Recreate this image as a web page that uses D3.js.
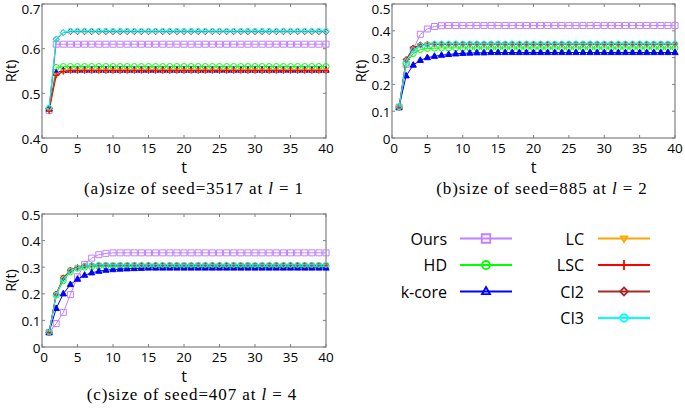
<!DOCTYPE html>
<html>
<head>
<meta charset="utf-8">
<script src="https://cdn.jsdelivr.net/npm/d3@7"></script>
<style>
  html, body { margin: 0; padding: 0; background: #fff; }
  svg { display: block; }
</style>
</head>
<body>
<div id="chart"></div>
<script>
/* ============================
   DATA
============================ */
const T = [1,2,3,4,5,6,7,8,9,10,11,12,13,14,15,16,17,18,19,20,
           21,22,23,24,25,26,27,28,29,30,31,32,33,34,35,36,37,38,39,40];

const X_TICKS = [0,5,10,15,20,25,30,35,40];
const Y_TICKS_A = [0.4,0.5,0.6,0.7];
const Y_TICKS_BC = [0,0.1,0.2,0.3,0.4,0.5];

const SERIES_NAMES = ["Ours","HD","k-core","LC","LSC","CI2","CI3"];

// (a) seed=3517, l=1
const A_OURS = [0.462,0.610,0.610,0.610,0.610,0.610,0.610,0.610,0.610,0.610,
                0.610,0.610,0.610,0.610,0.610,0.610,0.610,0.610,0.610,0.610,
                0.610,0.610,0.610,0.610,0.610,0.610,0.610,0.610,0.610,0.610,
                0.610,0.610,0.610,0.610,0.610,0.610,0.610,0.610,0.610,0.610];
const A_HD   = [0.465,0.558,0.560,0.560,0.560,0.560,0.560,0.560,0.560,0.560,
                0.560,0.560,0.560,0.560,0.560,0.560,0.560,0.560,0.560,0.560,
                0.560,0.560,0.560,0.560,0.560,0.560,0.560,0.560,0.560,0.560,
                0.560,0.560,0.560,0.560,0.560,0.560,0.560,0.560,0.560,0.560];
const A_KCORE= [0.465,0.546,0.551,0.552,0.552,0.552,0.552,0.552,0.552,0.552,
                0.552,0.552,0.552,0.552,0.552,0.552,0.552,0.552,0.552,0.552,
                0.552,0.552,0.552,0.552,0.552,0.552,0.552,0.552,0.552,0.552,
                0.552,0.552,0.552,0.552,0.552,0.552,0.552,0.552,0.552,0.552];
const A_LC   = [0.462,0.541,0.549,0.551,0.551,0.551,0.551,0.551,0.551,0.551,
                0.551,0.551,0.551,0.551,0.551,0.551,0.551,0.551,0.551,0.551,
                0.551,0.551,0.551,0.551,0.551,0.551,0.551,0.551,0.551,0.551,
                0.551,0.551,0.551,0.551,0.551,0.551,0.551,0.551,0.551,0.551];
const A_LSC  = [0.460,0.540,0.549,0.551,0.551,0.551,0.551,0.551,0.551,0.551,
                0.551,0.551,0.551,0.551,0.551,0.551,0.551,0.551,0.551,0.551,
                0.551,0.551,0.551,0.551,0.551,0.551,0.551,0.551,0.551,0.551,
                0.551,0.551,0.551,0.551,0.551,0.551,0.551,0.551,0.551,0.551];
const A_CI2  = [0.466,0.621,0.636,0.638,0.638,0.638,0.638,0.638,0.638,0.638,
                0.638,0.638,0.638,0.638,0.638,0.638,0.638,0.638,0.638,0.638,
                0.638,0.638,0.638,0.638,0.638,0.638,0.638,0.638,0.638,0.638,
                0.638,0.638,0.638,0.638,0.638,0.638,0.638,0.638,0.638,0.638];
const A_CI3  = [0.468,0.622,0.636,0.640,0.640,0.640,0.640,0.640,0.640,0.640,
                0.640,0.640,0.640,0.640,0.640,0.640,0.640,0.640,0.640,0.640,
                0.640,0.640,0.640,0.640,0.640,0.640,0.640,0.640,0.640,0.640,
                0.640,0.640,0.640,0.640,0.640,0.640,0.640,0.640,0.640,0.640];

// (b) seed=885, l=2
const B_OURS = [0.115,0.275,0.330,0.387,0.407,0.416,0.419,0.420,0.420,0.420,
                0.420,0.420,0.420,0.420,0.420,0.420,0.420,0.420,0.420,0.420,
                0.420,0.420,0.420,0.420,0.420,0.420,0.420,0.420,0.420,0.420,
                0.420,0.420,0.420,0.420,0.420,0.420,0.420,0.420,0.420,0.420];
const B_HD   = [0.115,0.278,0.315,0.330,0.334,0.335,0.336,0.336,0.336,0.336,
                0.336,0.336,0.336,0.336,0.336,0.336,0.336,0.336,0.336,0.336,
                0.336,0.336,0.336,0.336,0.336,0.336,0.336,0.336,0.336,0.336,
                0.336,0.336,0.336,0.336,0.336,0.336,0.336,0.336,0.336,0.336];
const B_KCORE= [0.115,0.232,0.272,0.290,0.300,0.305,0.309,0.312,0.314,0.316,
                0.317,0.318,0.318,0.319,0.319,0.319,0.319,0.319,0.319,0.319,
                0.319,0.319,0.319,0.319,0.319,0.319,0.319,0.319,0.319,0.319,
                0.319,0.319,0.319,0.319,0.319,0.319,0.319,0.319,0.319,0.319];
const B_LC   = [0.115,0.290,0.333,0.346,0.349,0.350,0.350,0.350,0.350,0.350,
                0.350,0.350,0.350,0.350,0.350,0.350,0.350,0.350,0.350,0.350,
                0.350,0.350,0.350,0.350,0.350,0.350,0.350,0.350,0.350,0.350,
                0.350,0.350,0.350,0.350,0.350,0.350,0.350,0.350,0.350,0.350];
const B_LSC  = [0.115,0.292,0.336,0.347,0.349,0.350,0.350,0.350,0.350,0.350,
                0.350,0.350,0.350,0.350,0.350,0.350,0.350,0.350,0.350,0.350,
                0.350,0.350,0.350,0.350,0.350,0.350,0.350,0.350,0.350,0.350,
                0.350,0.350,0.350,0.350,0.350,0.350,0.350,0.350,0.350,0.350];
const B_CI2  = [0.115,0.293,0.336,0.348,0.350,0.351,0.351,0.351,0.351,0.351,
                0.351,0.351,0.351,0.351,0.351,0.351,0.351,0.351,0.351,0.351,
                0.351,0.351,0.351,0.351,0.351,0.351,0.351,0.351,0.351,0.351,
                0.351,0.351,0.351,0.351,0.351,0.351,0.351,0.351,0.351,0.351];
const B_CI3  = [0.115,0.286,0.328,0.345,0.349,0.352,0.352,0.352,0.352,0.352,
                0.352,0.352,0.352,0.352,0.352,0.352,0.352,0.352,0.352,0.352,
                0.352,0.352,0.352,0.352,0.352,0.352,0.352,0.352,0.352,0.352,
                0.352,0.352,0.352,0.352,0.352,0.352,0.352,0.352,0.352,0.352];

// (c) seed=407, l=4
const C_OURS = [0.055,0.088,0.130,0.197,0.264,0.310,0.334,0.347,0.352,0.354,
                0.354,0.354,0.354,0.354,0.354,0.354,0.354,0.354,0.354,0.354,
                0.354,0.354,0.354,0.354,0.354,0.354,0.354,0.354,0.354,0.354,
                0.354,0.354,0.354,0.354,0.354,0.354,0.354,0.354,0.354,0.354];
const C_HD   = [0.055,0.195,0.249,0.283,0.296,0.300,0.302,0.303,0.303,0.303,
                0.303,0.303,0.303,0.303,0.303,0.303,0.303,0.303,0.303,0.303,
                0.303,0.303,0.303,0.303,0.303,0.303,0.303,0.303,0.303,0.303,
                0.303,0.303,0.303,0.303,0.303,0.303,0.303,0.303,0.303,0.303];
const C_KCORE= [0.055,0.145,0.200,0.235,0.255,0.270,0.279,0.285,0.289,0.291,
                0.293,0.294,0.295,0.296,0.297,0.297,0.297,0.297,0.297,0.297,
                0.297,0.297,0.297,0.297,0.297,0.297,0.297,0.297,0.297,0.297,
                0.297,0.297,0.297,0.297,0.297,0.297,0.297,0.297,0.297,0.297];
const C_LC   = [0.055,0.200,0.262,0.290,0.300,0.305,0.307,0.308,0.308,0.308,
                0.308,0.308,0.308,0.308,0.308,0.308,0.308,0.308,0.308,0.308,
                0.308,0.308,0.308,0.308,0.308,0.308,0.308,0.308,0.308,0.308,
                0.308,0.308,0.308,0.308,0.308,0.308,0.308,0.308,0.308,0.308];
const C_LSC  = [0.055,0.198,0.258,0.287,0.298,0.304,0.306,0.307,0.307,0.307,
                0.307,0.307,0.307,0.307,0.307,0.307,0.307,0.307,0.307,0.307,
                0.307,0.307,0.307,0.307,0.307,0.307,0.307,0.307,0.307,0.307,
                0.307,0.307,0.307,0.307,0.307,0.307,0.307,0.307,0.307,0.307];
const C_CI2  = [0.055,0.199,0.260,0.289,0.299,0.305,0.307,0.308,0.308,0.308,
                0.308,0.308,0.308,0.308,0.308,0.308,0.308,0.308,0.308,0.308,
                0.308,0.308,0.308,0.308,0.308,0.308,0.308,0.308,0.308,0.308,
                0.308,0.308,0.308,0.308,0.308,0.308,0.308,0.308,0.308,0.308];
const C_CI3  = [0.055,0.196,0.255,0.286,0.298,0.304,0.307,0.309,0.309,0.309,
                0.309,0.309,0.309,0.309,0.309,0.309,0.309,0.309,0.309,0.309,
                0.309,0.309,0.309,0.309,0.309,0.309,0.309,0.309,0.309,0.309,
                0.309,0.309,0.309,0.309,0.309,0.309,0.309,0.309,0.309,0.309];

/* ============================
   STYLE
============================ */
const W = 685, H = 410;
const AXIS_GRAY = "#808080";
const SANS = "'Open Sans', 'DejaVu Sans', sans-serif";
const SERIF = "'Liberation Serif', 'DejaVu Serif', serif";

// size = marker half-size in plot; leg = size in legend
const STYLE = {
  "Ours":   { color: "#c080ff", shape: "square",   size: 6,   leg: 8.5, fill: false },
  "HD":     { color: "#00ff00", shape: "circle",   size: 3,   leg: 4,   fill: false },
  "k-core": { color: "#0000ff", shape: "triangle", size: 3.5, leg: 4.5, fill: true  },
  "LC":     { color: "#ffa500", shape: "trdown",   size: 3,   leg: 3.5, fill: true  },
  "LSC":    { color: "#ff0000", shape: "plus",     size: 3,   leg: 5,   fill: false },
  "CI2":    { color: "#a52a2a", shape: "diamond",  size: 3,   leg: 4,   fill: false },
  "CI3":    { color: "#00ffff", shape: "circle",   size: 2.5, leg: 3.8, fill: false }
};

const PANELS = [
  { x0: 42,  x1: 326, y0: 4,   y1: 138, yDom: [0.4, 0.7], yTicks: Y_TICKS_A,
    tY: 173, capX: 194, capY: 194, tag: "(a)", seed: "3517", l: "1",
    series: [A_OURS, A_HD, A_KCORE, A_LC, A_LSC, A_CI2, A_CI3] },
  { x0: 392, x1: 675, y0: 4,   y1: 138, yDom: [0, 0.5], yTicks: Y_TICKS_BC,
    tY: 173, capX: 542, capY: 194, tag: "(b)", seed: "885", l: "2",
    series: [B_OURS, B_HD, B_KCORE, B_LC, B_LSC, B_CI2, B_CI3] },
  { x0: 42,  x1: 326, y0: 214, y1: 347, yDom: [0, 0.5], yTicks: Y_TICKS_BC,
    tY: 382, capX: 192, capY: 400, tag: "(c)", seed: "407", l: "4",
    series: [C_OURS, C_HD, C_KCORE, C_LC, C_LSC, C_CI2, C_CI3] }
];

/* ============================
   HELPERS
============================ */
function markerPath(shape, s) {
  switch (shape) {
    case "square":   return `M${-s/2},${-s/2}h${s}v${s}h${-s}Z`;
    case "circle":   return d3.arc()({innerRadius: 0, outerRadius: s, startAngle: 0, endAngle: 2 * Math.PI});
    case "triangle": return `M0,${-s}L${s*0.9},${s*0.6}L${-s*0.9},${s*0.6}Z`;
    case "trdown":   return `M0,${s}L${s*0.9},${-s*0.6}L${-s*0.9},${-s*0.6}Z`;
    case "plus":     return `M${-s},0H${s}M0,${-s}V${s}`;
    case "diamond":  return `M0,${-s}L${s},0L0,${s}L${-s},0Z`;
  }
  return "";
}

function drawMarker(g, st, x, y, s, fill, sw) {
  g.append("path")
    .attr("d", markerPath(st.shape, s))
    .attr("transform", `translate(${x},${y})`)
    .attr("fill", fill ? st.color : "none")
    .attr("stroke", st.color)
    .attr("stroke-width", sw);
}

const fmtY = d => d === 0 ? "0" : d.toFixed(1);

/* ============================
   RENDER
============================ */
const svg = d3.select("#chart").append("svg")
  .attr("width", W).attr("height", H)
  .attr("viewBox", `0 0 ${W} ${H}`);

PANELS.forEach(p => {
  const x = d3.scaleLinear().domain([0, 40]).range([p.x0, p.x1]);
  const y = d3.scaleLinear().domain(p.yDom).range([p.y1, p.y0]);
  const g = svg.append("g");

  // frame
  g.append("rect")
    .attr("x", p.x0).attr("y", p.y0)
    .attr("width", p.x1 - p.x0).attr("height", p.y1 - p.y0)
    .attr("fill", "none").attr("stroke", AXIS_GRAY).attr("stroke-width", 1.2);

  // ticks inward (all sides)
  X_TICKS.forEach(t => {
    g.append("line").attr("x1", x(t)).attr("x2", x(t)).attr("y1", p.y1).attr("y2", p.y1 - 3)
      .attr("stroke", AXIS_GRAY);
    g.append("line").attr("x1", x(t)).attr("x2", x(t)).attr("y1", p.y0).attr("y2", p.y0 + 3)
      .attr("stroke", AXIS_GRAY);
    g.append("text").text(t)
      .attr("x", x(t) + (t === 0 ? 2 : 0)).attr("y", p.y1 + 15)
      .attr("text-anchor", "middle")
      .attr("font-family", SANS).attr("font-size", 13.5).attr("fill", "#000");
  });
  p.yTicks.forEach(v => {
    g.append("line").attr("x1", p.x0).attr("x2", p.x0 + 3).attr("y1", y(v)).attr("y2", y(v))
      .attr("stroke", AXIS_GRAY);
    g.append("line").attr("x1", p.x1).attr("x2", p.x1 - 3).attr("y1", y(v)).attr("y2", y(v))
      .attr("stroke", AXIS_GRAY);
    g.append("text").text(fmtY(v))
      .attr("x", p.x0 - 1.5).attr("y", Math.max(y(v) + 5.5, 14))
      .attr("text-anchor", "end")
      .attr("font-family", SANS).attr("font-size", 13.5).attr("fill", "#000");
  });

  // axis labels
  g.append("text").text("t")
    .attr("x", (p.x0 + p.x1) / 2).attr("y", p.tY)
    .attr("text-anchor", "middle")
    .attr("font-family", SANS).attr("font-size", 16);
  g.append("text").text("R(t)")
    .attr("transform", `translate(${p.x0 - 32},${(p.y0 + p.y1) / 2}) rotate(-90)`)
    .attr("text-anchor", "middle").attr("dominant-baseline", "central")
    .attr("font-family", SANS).attr("font-size", 14.5);

  // caption
  const cap = g.append("text")
    .attr("x", p.capX).attr("y", p.capY)
    .attr("text-anchor", "middle")
    .attr("font-family", SERIF).attr("font-size", 17)
    .attr("letter-spacing", 0.9);
  cap.append("tspan").text(`${p.tag}size of seed=${p.seed} at `);
  cap.append("tspan").attr("font-style", "italic").text("l");
  cap.append("tspan").text(` = ${p.l}`);

  // series
  const line = d3.line().x(d => x(d[0])).y(d => y(d[1]));
  p.series.forEach((vals, i) => {
    const st = STYLE[SERIES_NAMES[i]];
    const pts = T.map((t, k) => [t, vals[k]]);
    g.append("path").datum(pts)
      .attr("d", line)
      .attr("fill", "none").attr("stroke", st.color).attr("stroke-width", 1);
    const mg = g.append("g");
    pts.forEach(d => drawMarker(mg, st, x(d[0]), y(d[1]), st.size, st.fill, 1));
  });
});

/* ============================
   LEGEND
============================ */
const LEG_COLS = [
  { names: ["Ours", "HD", "k-core"], textX: 447, lx0: 460, lx1: 512 },
  { names: ["LC", "LSC", "CI2", "CI3"], textX: 584, lx0: 598, lx1: 650 }
];
const LEG_ROWS = [238.5, 265, 291.5, 318];

const leg = svg.append("g");
LEG_COLS.forEach(col => {
  col.names.forEach((n, i) => {
    const st = STYLE[n];
    const yy = LEG_ROWS[i];
    leg.append("text").text(n)
      .attr("x", col.textX).attr("y", yy + 6)
      .attr("text-anchor", "end")
      .attr("font-family", SANS).attr("font-size", 16).attr("fill", "#000");
    leg.append("line")
      .attr("x1", col.lx0).attr("x2", col.lx1).attr("y1", yy).attr("y2", yy)
      .attr("stroke", st.color).attr("stroke-width", 2);
    drawMarker(leg, st, (col.lx0 + col.lx1) / 2, yy, st.leg, false, 1.8);
  });
});
</script>
</body>
</html>
